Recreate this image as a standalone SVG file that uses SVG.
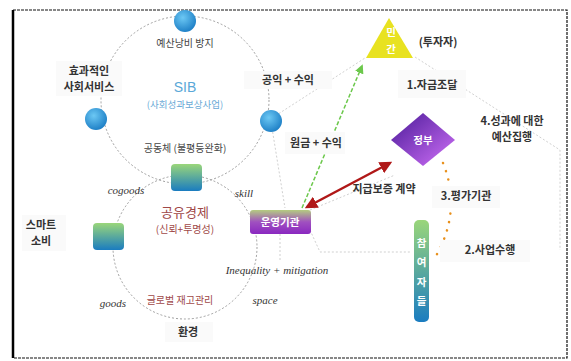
<svg xmlns="http://www.w3.org/2000/svg" width="571" height="361" viewBox="0 0 571 361">
<style>
.k{font-family:"Noto Sans CJK KR","Noto Sans",sans-serif;font-size:11px;font-weight:bold;fill:#333;text-anchor:middle}
.kr{font-family:"Noto Sans CJK KR","Noto Sans",sans-serif;font-size:10px;fill:#444;text-anchor:middle}
.w{font-family:"Noto Sans CJK KR","Noto Sans",sans-serif;font-size:10.5px;font-weight:bold;fill:#fff;text-anchor:middle}
.it{font-family:"Liberation Serif","DejaVu Serif",serif;font-size:11px;font-style:italic;fill:#333;text-anchor:middle}
.circ{fill:none;stroke:#888;stroke-width:0.8;stroke-dasharray:2 2}
.thin{fill:none;stroke:#c4c4c4;stroke-width:0.8;stroke-dasharray:2 2}
.bg{fill:#fafafa}
</style>
<defs>
<radialGradient id="blob" cx="0.4" cy="0.35" r="0.7"><stop offset="0" stop-color="#6cc8f4"/><stop offset="1" stop-color="#1a7cc4"/></radialGradient>
<linearGradient id="gb" x1="0" y1="0" x2="0" y2="1"><stop offset="0" stop-color="#9ad67a"/><stop offset="1" stop-color="#1a7cc0"/></linearGradient>
<linearGradient id="op" x1="0" y1="0" x2="0" y2="1"><stop offset="0" stop-color="#b4cc80"/><stop offset="0.5" stop-color="#a050c0"/><stop offset="1" stop-color="#8a28c0"/></linearGradient>
<linearGradient id="gov" x1="0" y1="0" x2="1" y2="1"><stop offset="0" stop-color="#4a1a98"/><stop offset="1" stop-color="#d070f8"/></linearGradient>
<marker id="ag" viewBox="0 0 10 10" refX="8" refY="5" markerWidth="6" markerHeight="6" orient="auto"><path d="M0,0 L10,5 L0,10 z" fill="#6cc84c"/></marker>
<marker id="ar" viewBox="0 0 10 10" refX="8" refY="5" markerWidth="5" markerHeight="5" orient="auto-start-reverse"><path d="M0,0 L10,5 L0,10 z" fill="#b01818"/></marker>
</defs>
<rect x="0" y="0" width="571" height="361" fill="#fff"/>
<rect x="13" y="10" width="554" height="348" fill="none" stroke="#111" stroke-width="1.2" stroke-dasharray="3 1"/>
<line x1="13" y1="10" x2="13" y2="358" stroke="#000" stroke-width="2.5"/>

<g id="connectors">
<circle class="circ" cx="185" cy="100" r="84"/>
<circle class="circ" cx="185" cy="247" r="72"/>
<path class="thin" d="M272,118 L365,58"/>
<path class="thin" d="M415,57 L560,150 L560,250"/>
<path class="thin" d="M272,128 L285,208"/>
<path class="thin" d="M310,230 L320,252 L410,252"/>
<path class="thin" d="M280,234 L280,262"/>
<path class="thin" d="M310,210 L395,175"/>
<path d="M302,208 L362,66" fill="none" stroke="#6cc84c" stroke-width="1.5" stroke-dasharray="4 2" marker-end="url(#ag)"/>
<path d="M307,207 L390,163" fill="none" stroke="#b01818" stroke-width="2.5" marker-start="url(#ar)" marker-end="url(#ar)"/>
<path d="M443,163 Q462,210 436,256" fill="none" stroke="#e8901c" stroke-width="2.5" stroke-dasharray="0.1 8.5" stroke-linecap="round"/>
</g>

<g id="top-blob"><circle cx="185" cy="21" r="11" fill="url(#blob)"/></g>
<g id="left-blob"><circle cx="96" cy="119" r="11" fill="url(#blob)"/></g>
<g id="right-blob"><circle cx="271" cy="121" r="11" fill="url(#blob)"/></g>
<g id="budget"><text class="kr" x="185" y="47">예산낭비 방지</text></g>
<g id="effective"><rect class="bg" x="56" y="61" width="66" height="35"/><text class="k" x="89" y="75">효과적인</text><text class="k" x="89" y="91">사회서비스</text></g>
<g id="sib"><text x="185" y="92" font-family="Liberation Sans,sans-serif" font-size="14" fill="#5aa8d8" text-anchor="middle">SIB</text><text x="185" y="108" font-family="Noto Sans CJK KR,sans-serif" font-size="9.5" fill="#6aaad6" text-anchor="middle">(사회성과보상사업)</text></g>
<g id="community"><text class="kr" x="185" y="152">공동체 (불평등완화)</text></g>
<g id="public"><rect class="bg" x="244" y="71" width="88" height="18"/><text class="k" x="288" y="84">공익 + 수익</text></g>
<g id="share-top"><rect x="171" y="164" width="31" height="27" rx="4" fill="url(#gb)"/></g>
<g id="share-left"><rect x="93" y="223" width="31" height="27" rx="4" fill="url(#gb)"/></g>
<g id="sharing"><text x="185" y="217" font-family="Noto Sans CJK KR,sans-serif" font-size="13" fill="#a04848" text-anchor="middle">공유경제</text><text x="185" y="233" font-family="Noto Sans CJK KR,sans-serif" font-size="10" fill="#a04848" text-anchor="middle">(신뢰+투명성)</text></g>
<g id="smart"><rect class="bg" x="22" y="215" width="44" height="36"/><text class="k" x="41" y="229">스마트</text><text class="k" x="41" y="245">소비</text></g>
<g id="operator"><rect x="250" y="210" width="61" height="24" rx="3" fill="url(#op)"/><text class="w" x="280" y="226">운영기관</text></g>
<g id="labels-it">
<text class="it" x="126" y="194">cogoods</text>
<text class="it" x="244" y="197">skill</text>
<text class="it" x="277" y="274">Inequality + mitigation</text>
<text class="it" x="113" y="307">goods</text>
<text class="it" x="265" y="304">space</text>
</g>
<g id="global"><text x="180" y="304" font-family="Noto Sans CJK KR,sans-serif" font-size="10" fill="#a04848" text-anchor="middle">글로벌 재고관리</text></g>
<g id="env"><rect class="bg" x="165" y="322" width="48" height="20"/><text class="k" x="188" y="336">환경</text></g>

<g id="private"><polygon points="389,18 366,58 413,58" fill="#e8e220"/><text class="w" x="391" y="36" fill="#f8f8c0">민</text><text class="w" x="391" y="53">간</text></g>
<g id="investor"><text class="k" x="438" y="46">(투자자)</text></g>
<g id="fund"><rect class="bg" x="398" y="70" width="68" height="28"/><text class="k" x="432" y="89">1.자금조달</text></g>
<g id="exec"><text class="k" x="512" y="125">4.성과에 대한</text><text class="k" x="512" y="141">예산집행</text></g>
<g id="principal"><rect class="bg" x="285" y="132" width="60" height="22"/><text class="k" x="316" y="147">원금 + 수익</text></g>
<g id="gov"><polygon points="423,113 455,140 423,166 391,140" fill="url(#gov)"/><text class="w" x="423" y="144">정부</text></g>
<g id="guarantee"><text class="k" x="384" y="193">지급보증 계약</text></g>
<g id="eval"><rect class="bg" x="432" y="186" width="68" height="22"/><text class="k" x="466" y="200">3.평가기관</text></g>
<g id="perform"><rect class="bg" x="440" y="240" width="90" height="22"/><text class="k" x="490" y="254">2.사업수행</text></g>
<g id="participants"><rect x="414" y="220" width="15" height="102" rx="5" fill="url(#gb)"/><text class="w" x="421.5" y="247">참</text><text class="w" x="421.5" y="266">여</text><text class="w" x="421.5" y="286">자</text><text class="w" x="421.5" y="305">들</text></g>
</svg>
